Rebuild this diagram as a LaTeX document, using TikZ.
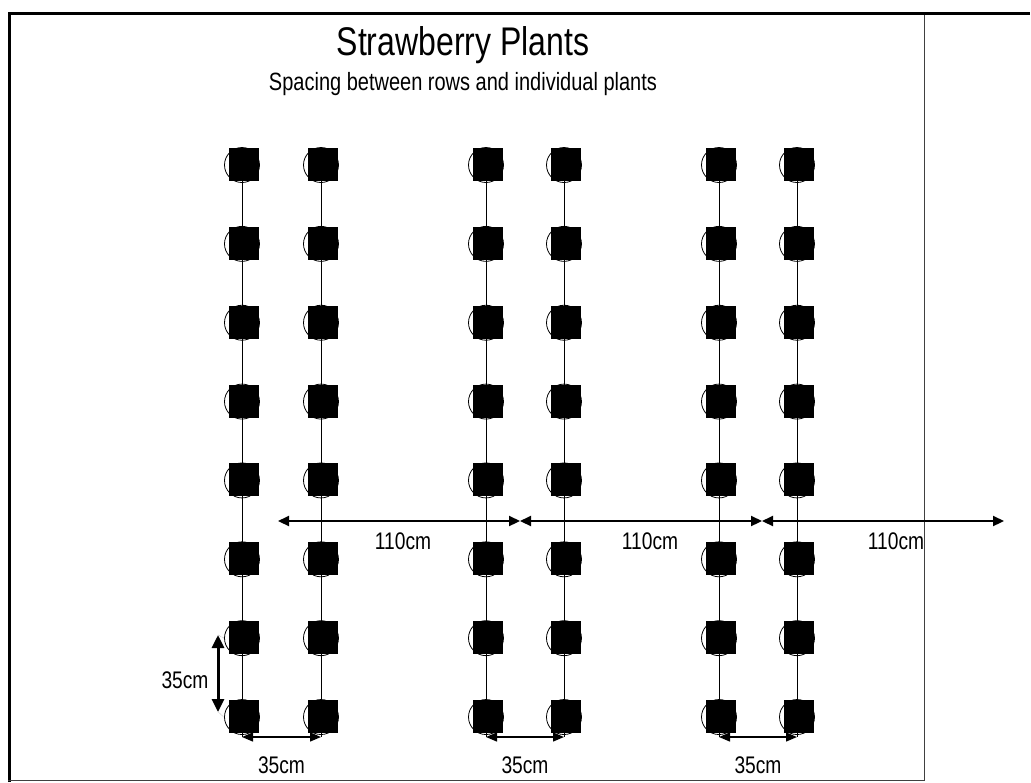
\documentclass[tikz,border=0pt]{standalone}
\usepackage{fontspec}
\setmainfont{Liberation Sans}
\usetikzlibrary{arrows.meta,shapes.geometric}
\pgfdeclarelayer{background}
\pgfsetlayers{background,main}
\tikzset{
  plant/.style={draw, ellipse, line width=0.8pt, minimum width=35pt, minimum height=35pt, inner sep=0pt},
  rowline/.style={line width=1pt},
  bigarrow/.style={line width=2.2pt, {Triangle[length=11pt,width=10pt]}-{Triangle[length=11pt,width=10pt]}},
  smallarrow/.style={line width=1.4pt, {Triangle[length=11pt,width=9pt]}-{Triangle[length=11pt,width=9pt]}},
  vertarrow/.style={line width=3pt, {Triangle[length=13pt,width=12pt]}-{Triangle[length=13pt,width=12pt]}},
  lbl/.style={font=\fontsize{24}{28}\selectfont, inner sep=0pt, xscale=0.8},
  frameline/.style={line width=3pt},
}
\begin{document}
\begin{tikzpicture}[x=1pt,y=-1pt]
\useasboundingbox (0,0) rectangle (1031,782);
% frame
\draw[frameline] (9.5,782) -- (9.5,13.5) -- (1030,13.5);
\draw[line width=1.6pt, black!75] (8,780.5) -- (924.5,780.5) -- (924.5,15);
% title
\node[inner sep=0pt, xscale=0.8, font=\fontsize{40}{44}\selectfont] (title) at (463,45) {Strawberry Plants};
\node[inner sep=0pt, xscale=0.8, font=\fontsize{25}{29}\selectfont] (sub) at (463,84) {Spacing between rows and individual plants};
% plants
\foreach \c/\x in {1/242,2/321,3/486,4/564,5/719,6/797} {
  \foreach \r in {1,...,8} {
    \pgfmathsetmacro\yy{165+78.86*(\r-1)}
    \node[plant] (p\c\r) at (\x,\yy) {};
    \fill ([shift={(-13,-17)}]p\c\r.center) rectangle ([shift={(17,16)}]p\c\r.center);
  }
  \coordinate (b\c) at (\x,737);
  \begin{pgfonlayer}{background}
    \draw[rowline] (p\c1.center) -- (b\c);
  \end{pgfonlayer}
}
% 110cm arrows
\coordinate (a0) at (278,521);
\coordinate (a1) at (520,521);
\coordinate (a2) at (762,521);
\coordinate (a3) at (1004,521);
\draw[bigarrow] (a0) -- (a1);
\draw[bigarrow] (a1) -- (a2);
\draw[bigarrow] (a2) -- (a3);
\node[lbl] (l1) at (403,541) {110cm};
\node[lbl] (l2) at (650,541) {110cm};
\node[lbl] (l3) at (896,541) {110cm};
% 35cm horizontal arrows
\draw[smallarrow] (b1) -- (b2);
\draw[smallarrow] (b3) -- (b4);
\draw[smallarrow] (b5) -- (b6);
\node[lbl] (h1) at (281.5,765) {35cm};
\node[lbl] (h2) at (525,765) {35cm};
\node[lbl] (h3) at (758,765) {35cm};
% 35cm vertical arrow
\coordinate (v1) at (218,635);
\coordinate (v2) at (218,712);
\draw[densely dotted, gray, line width=0.5pt] (v1) -- (p17.west);
\draw[densely dotted, gray, line width=0.5pt] (v2) -- (p18.west);
\draw[vertarrow] (v1) -- (v2);
\node[lbl] (vl) at (185,680) {35cm};
\end{tikzpicture}
\end{document}
